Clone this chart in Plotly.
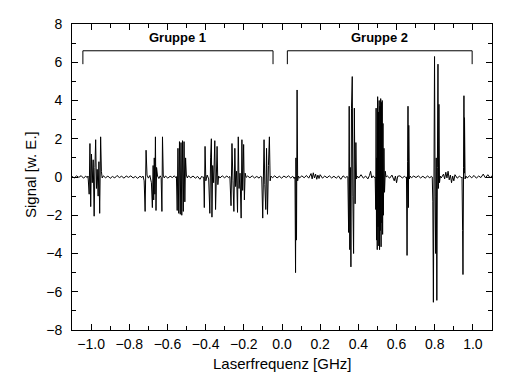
import plotly.graph_objects as go

base_0 = [(-1.100, 0.03), (-1.088, -0.05), (-1.076, 0.06), (-1.064, -0.02), (-1.052, 0.07),
          (-1.040, -0.06), (-1.028, 0.04), (-1.020, -0.03)]
cluster_a = [(-1.016, 0.05), (-1.010, -0.9), (-1.006, 1.75), (-1.002, -1.55), (-0.998, 1.2),
             (-0.994, -0.3), (-0.989, 0.9), (-0.984, -2.05), (-0.980, 0.5), (-0.976, 1.95),
             (-0.972, -0.6), (-0.968, 0.4), (-0.963, -1.0), (-0.959, 0.8), (-0.955, -1.9),
             (-0.950, 2.1), (-0.946, 0.3), (-0.942, -0.05)]
base_1 = [(-0.936, 0.06), (-0.924, -0.04), (-0.912, 0.05), (-0.900, -0.07), (-0.888, 0.03),
          (-0.876, -0.05), (-0.864, 0.08), (-0.852, -0.03), (-0.840, 0.04), (-0.828, -0.06),
          (-0.816, 0.05), (-0.804, -0.02), (-0.792, 0.06), (-0.780, -0.05), (-0.768, 0.03),
          (-0.756, -0.07), (-0.744, 0.04), (-0.734, -0.03)]
cluster_b = [(-0.728, 0.05), (-0.722, -0.2), (-0.717, -1.8), (-0.712, 1.4), (-0.707, 0.1),
             (-0.700, -0.06), (-0.692, 0.08), (-0.684, -0.3), (-0.679, -1.6), (-0.675, 0.6),
             (-0.672, -1.2), (-0.669, 1.0), (-0.666, -0.9), (-0.663, 2.1), (-0.660, -1.75),
             (-0.657, 0.5), (-0.652, 0.05), (-0.645, -0.08), (-0.638, 0.06), (-0.633, -0.04),
             (-0.629, -1.8), (-0.626, 2.1), (-0.622, 0.1), (-0.617, -0.05)]
base_2 = [(-0.610, 0.05), (-0.598, -0.06), (-0.586, 0.04), (-0.574, -0.03), (-0.564, 0.06),
          (-0.556, -0.04)]
cluster_c = [(-0.553, 0.02), (-0.549, -1.75), (-0.545, 1.5), (-0.541, -1.9), (-0.537, 1.85),
             (-0.533, -1.95), (-0.529, 1.8), (-0.525, -2.0), (-0.521, 1.9), (-0.517, -1.8),
             (-0.513, 1.85), (-0.509, -1.3), (-0.505, 1.0), (-0.501, 0.1), (-0.496, -0.05)]
base_3 = [(-0.490, 0.06), (-0.478, -0.04), (-0.466, 0.05), (-0.454, -0.06), (-0.442, 0.03),
          (-0.430, -0.12), (-0.420, 0.04), (-0.414, -0.03)]
cluster_d = [(-0.410, 0.0), (-0.407, -1.6), (-0.403, 1.6), (-0.399, -0.2), (-0.392, 0.1),
             (-0.384, -0.1), (-0.378, -1.9), (-0.374, 1.0), (-0.370, 2.0), (-0.367, -2.1),
             (-0.363, 0.6), (-0.358, -0.3), (-0.352, 1.9), (-0.348, -1.7), (-0.344, 0.3),
             (-0.340, 1.6), (-0.336, -0.4), (-0.332, 0.05)]
base_4 = [(-0.325, -0.05), (-0.313, 0.06), (-0.301, -0.04), (-0.289, 0.05), (-0.280, -0.03)]
cluster_e = [(-0.273, 0.03), (-0.267, -1.5), (-0.262, 1.75), (-0.257, -0.2), (-0.252, -1.8),
             (-0.247, 1.5), (-0.243, -0.5), (-0.238, 0.3), (-0.233, -1.85), (-0.229, 2.1),
             (-0.225, -0.6), (-0.220, 0.2), (-0.214, -2.15), (-0.210, 1.95), (-0.206, -0.7),
             (-0.201, 1.7), (-0.197, -1.2), (-0.193, 0.2), (-0.188, -0.02)]
base_5 = [(-0.180, 0.05), (-0.168, -0.04), (-0.156, 0.06), (-0.144, -0.05), (-0.132, 0.03),
          (-0.120, -0.06), (-0.112, 0.04)]
cluster_f = [(-0.106, 0.0), (-0.101, -2.15), (-0.097, 0.3), (-0.094, 1.95), (-0.090, -0.4),
             (-0.085, -1.7), (-0.081, 1.5), (-0.076, -1.95), (-0.071, 0.6), (-0.066, 2.1),
             (-0.062, -0.2), (-0.058, 0.05)]
base_6 = [(-0.050, -0.04), (-0.038, 0.06), (-0.026, -0.05), (-0.014, 0.04), (-0.002, -0.06),
          (0.010, 0.05), (0.022, -0.03), (0.034, 0.06), (0.046, -0.05), (0.056, 0.04),
          (0.064, -0.08)]
spike_g = [(0.068, 0.0), (0.071, -5.0), (0.073, 1.0), (0.076, -3.3), (0.079, 4.55),
           (0.082, -0.2), (0.086, 0.05)]
base_7 = [(0.092, -0.05), (0.104, 0.06), (0.116, -0.04), (0.128, 0.08), (0.140, -0.06),
          (0.152, 0.18), (0.158, -0.1), (0.164, 0.22), (0.170, -0.05), (0.176, 0.15),
          (0.182, -0.12), (0.188, 0.1), (0.194, -0.08), (0.200, 0.12), (0.212, -0.06),
          (0.224, 0.05), (0.236, -0.04), (0.248, 0.06), (0.260, -0.05), (0.272, 0.04),
          (0.284, -0.06), (0.296, 0.05), (0.308, -0.12), (0.320, 0.06), (0.332, -0.04),
          (0.341, 0.03)]
cluster_h = [(0.345, 0.0), (0.349, -2.9), (0.352, 3.7), (0.355, -3.8), (0.358, 0.5),
             (0.361, -4.7), (0.364, 3.6), (0.368, 5.25), (0.371, -1.0), (0.375, -4.0),
             (0.379, 3.6), (0.383, -1.4), (0.387, 1.8), (0.390, -0.1), (0.395, 0.05)]
base_8 = [(0.402, -0.05), (0.414, 0.12), (0.426, -0.06), (0.438, 0.05), (0.450, -0.1),
          (0.458, 0.08), (0.464, 0.3), (0.470, -0.05), (0.478, 0.06), (0.485, -0.04)]
cluster_i = [(0.488, 0.0), (0.491, -1.7), (0.493, 3.6), (0.495, -3.3), (0.497, 1.0),
             (0.499, -3.8), (0.501, 4.2), (0.503, -2.6), (0.505, 3.4), (0.507, -3.6),
             (0.509, 4.0), (0.511, -3.8), (0.513, 3.7), (0.515, -2.8), (0.517, 4.1),
             (0.519, -3.65), (0.521, 3.9), (0.523, -2.4), (0.525, 4.0), (0.527, -3.0),
             (0.529, 2.8), (0.531, -2.0), (0.534, 1.5), (0.537, -0.8), (0.541, 0.3),
             (0.545, 0.0)]
base_9 = [(0.552, 0.05), (0.564, -0.06), (0.576, 0.1), (0.588, -0.2), (0.594, 0.05),
          (0.600, -0.3), (0.606, 0.04), (0.618, 0.06), (0.630, -0.05), (0.642, 0.04),
          (0.648, -0.03)]
spike_j = [(0.652, 0.0), (0.655, -4.1), (0.658, 0.8), (0.660, 3.7), (0.662, -1.6),
           (0.664, 2.7), (0.667, -0.1), (0.671, 0.05)]
base_10 = [(0.678, -0.04), (0.690, 0.05), (0.702, -0.03), (0.714, 0.06), (0.726, -0.05),
           (0.738, 0.04), (0.750, -0.06), (0.762, 0.05), (0.774, -0.04), (0.782, 0.03)]
cluster_k = [(0.787, 0.0), (0.790, -1.3), (0.793, -6.55), (0.796, 0.3), (0.799, 6.3),
             (0.802, -1.0), (0.805, -4.0), (0.808, 1.0), (0.811, -6.45), (0.814, 0.5),
             (0.817, 5.9), (0.819, -0.6), (0.822, 3.8), (0.825, -0.3), (0.829, 0.05)]
base_11 = [(0.834, -0.05), (0.846, 0.15), (0.852, -0.1), (0.858, 0.25), (0.864, -0.05),
           (0.870, 0.3), (0.876, -0.15), (0.882, 0.1), (0.888, -0.3), (0.894, 0.05),
           (0.900, -0.2), (0.906, 0.12), (0.918, -0.06), (0.930, 0.05), (0.939, -0.04)]
spike_l = [(0.943, 0.0), (0.946, -2.8), (0.948, -5.1), (0.951, 0.5), (0.953, 4.25),
           (0.955, 0.2), (0.956, 3.1), (0.959, -0.1), (0.963, 0.05)]
base_12 = [(0.970, -0.05), (0.982, 0.06), (0.994, -0.04), (1.006, 0.08), (1.018, -0.06),
           (1.030, 0.05), (1.042, -0.03), (1.054, 0.15), (1.066, -0.05), (1.078, 0.12),
           (1.090, -0.04), (1.100, 0.06)]

segments = [base_0, cluster_a, base_1, cluster_b, base_2, cluster_c, base_3, cluster_d,
            base_4, cluster_e, base_5, cluster_f, base_6, spike_g, base_7, cluster_h,
            base_8, cluster_i, base_9, spike_j, base_10, cluster_k, base_11, spike_l, base_12]

# ---- group brackets ----
group_names = ["Gruppe 1", "Gruppe 2"]
group_start = [-1.043, 0.028]
group_end = [-0.047, 0.996]
bracket_top = 6.6
bracket_foot = 5.9
label_y = 7.3

# ---- axes ----
x_ticks = [-1.0, -0.8, -0.6, -0.4, -0.2, 0.0, 0.2, 0.4, 0.6, 0.8, 1.0]
y_ticks = [-8, -6, -4, -2, 0, 2, 4, 6, 8]
x_title = "Laserfrequenz [GHz]"
y_title = "Signal [w. E.]"

freq = [p[0] for seg in segments for p in seg]
signal = [p[1] for seg in segments for p in seg]

FONT = "Liberation Sans, Arial, Helvetica, sans-serif"

fig = go.Figure()
fig.add_trace(go.Scatter(x=freq, y=signal, mode="lines",
                         line=dict(color="black", width=1), hoverinfo="skip"))

shapes = []
annotations = []
for name, x0, x1 in zip(group_names, group_start, group_end):
    shapes.append(dict(type="path", xref="x", yref="y",
                       path=f"M {x0},{bracket_foot} L {x0},{bracket_top} L {x1},{bracket_top} L {x1},{bracket_foot}",
                       line=dict(color="black", width=1)))
    annotations.append(dict(x=(x0 + x1) / 2, y=label_y, xref="x", yref="y", text=f"<b>{name}</b>",
                            showarrow=False, font=dict(family=FONT, size=13, color="black"),
                            xanchor="center", yanchor="middle"))

annotations.append(dict(x=0.5, y=0, xref="paper", yref="paper", text=x_title, showarrow=False,
                        xanchor="center", yanchor="middle", yshift=-33,
                        font=dict(family=FONT, size=15, color="black")))
annotations.append(dict(x=0, y=0.5, xref="paper", yref="paper", text=y_title, showarrow=False,
                        xanchor="center", yanchor="middle", xshift=-42, yshift=2, textangle=-90,
                        font=dict(family=FONT, size=15, color="black")))

axis_common = dict(showline=True, linecolor="black", linewidth=1, mirror="allticks",
                   ticks="inside", ticklen=6, tickwidth=1, tickcolor="black",
                   showgrid=False, zeroline=False,
                   tickfont=dict(family=FONT, size=14, color="black"))

fig.update_layout(
    width=519, height=385,
    margin=dict(l=72, r=27, t=24, b=55),
    paper_bgcolor="white", plot_bgcolor="white",
    showlegend=False,
    shapes=shapes, annotations=annotations,
    xaxis=dict(range=[-1.1, 1.1], tickmode="array", tickvals=x_ticks,
               ticktext=[f"{v:.1f}".replace("-", "\u2212") for v in x_ticks],
               ticklabelstandoff=1,
               minor=dict(dtick=0.1, tick0=0, ticks="inside", ticklen=4, tickcolor="black", showgrid=False),
               **axis_common),
    yaxis=dict(range=[-8, 8], tickmode="array", tickvals=y_ticks,
               ticktext=[f"{v}".replace("-", "\u2212") for v in y_ticks],
               ticklabelstandoff=6,
               minor=dict(dtick=1, tick0=0, ticks="inside", ticklen=4, tickcolor="black", showgrid=False),
               **axis_common),
)

fig.write_html("out.html", config={"displayModeBar": False},
               post_script="document.body.style.margin='0';")
